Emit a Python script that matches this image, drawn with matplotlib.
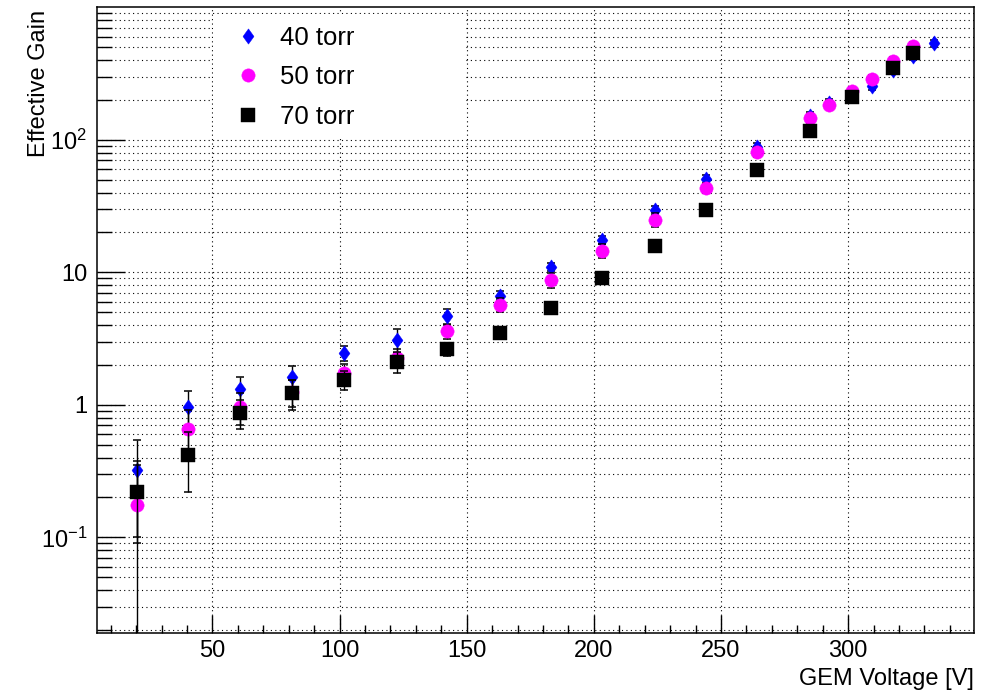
import numpy as np
import matplotlib
matplotlib.use('Agg')
import matplotlib.pyplot as plt
from matplotlib.ticker import MultipleLocator, LogLocator, NullFormatter
from matplotlib.patches import Rectangle

plt.rcParams['font.family'] = ['Liberation Sans', 'DejaVu Sans']
plt.rcParams['mathtext.fontset'] = 'custom'
plt.rcParams['mathtext.rm'] = 'Liberation Sans'
plt.rcParams['mathtext.it'] = 'Liberation Sans:italic'
plt.rcParams['mathtext.bf'] = 'Liberation Sans:bold'
plt.rcParams['mathtext.default'] = 'rm'

# 40 torr
v40 = [20.4, 40.4, 61.0, 81.3, 101.9, 122.4, 142.3, 163.0, 183.2, 203.2,
       224.0, 244.2, 264.3, 285.0, 292.6, 301.4, 309.2, 317.8, 325.4, 333.9]
g40 = [0.32, 0.97, 1.31, 1.62, 2.46, 3.1, 4.71, 6.67, 11.0, 17.6,
       29.4, 50.3, 88.7, 152, 190, 220, 255, 335, 430, 536]
e40 = [0.22, 0.31, 0.31, 0.33, 0.33, 0.63, 0.6, 0.5, 0.8, 1.3,
       2.2, 3.8, 6.5, 11, 13, 15, 17, 22, 28, 35]

# 50 torr
v50 = [20.4, 40.4, 61.0, 81.3, 101.9, 122.4, 142.3, 163.0, 183.2, 203.2,
       224.0, 244.2, 264.3, 285.0, 292.6, 301.4, 309.2, 317.8, 325.4]
g50 = [0.175, 0.66, 0.97, 1.25, 1.75, 2.27, 3.58, 5.7, 8.7, 14.6,
       25.0, 43.3, 81.3, 146, 183, 233, 290, 394, 510]
e50 = [0.2, 0.25, 0.26, 0.28, 0.3, 0.35, 0.45, 0.72, 1.1, 1.7,
       3.0, 3.9, 6.5, 11, 13, 16, 20, 26, 33]

# 70 torr
v70 = [20.4, 40.4, 61.0, 81.3, 101.9, 122.4, 142.3, 163.0, 183.2, 203.2,
       224.0, 244.2, 264.3, 285.0, 301.4, 317.8, 325.4]
g70 = [0.22, 0.42, 0.87, 1.22, 1.54, 2.12, 2.63, 3.5, 5.4, 9.05,
       15.7, 29.4, 58.9, 117, 209, 351, 448]
e70 = [0.13, 0.2, 0.21, 0.31, 0.25, 0.39, 0.3, 0.35, 0.45, 0.7,
       1.1, 2.0, 4.0, 8, 14, 23, 30]

labels = ['40 torr', '50 torr', '70 torr']
y_ticks = [0.1, 1, 10, 100]
y_tick_labels = [r'$10^{-1}$', '1', '10', r'$10^{2}$']

fig = plt.figure(figsize=(9.89, 6.92), dpi=100)
ax = fig.add_axes([0.0981, 0.0853, 0.8867, 0.9046])

diamond = [(0, 1), (0.72, 0), (0, -1), (-0.72, 0), (0, 1)]
eb = dict(ls='none', ecolor='black', elinewidth=1.0, capsize=2.6, capthick=1.1)
c1 = ax.errorbar(v40, g40, yerr=e40, marker=diamond, ms=11, color='#0000ff',
                 mec='#0000ff', zorder=3, **eb)
c2 = ax.errorbar(v50, g50, yerr=e50, marker='o', ms=9.6, color='#ff00ff',
                 mec='#ff00ff', zorder=4, **eb)
c3 = ax.errorbar(v70, g70, yerr=e70, marker='s', ms=10.4, color='black',
                 mec='black', zorder=5, **eb)
for c in (c1, c2, c3):
    c[0].set_markeredgewidth(0.3)

ax.set_yscale('log')
ax.set_xlim(4.6, 349.5)
ax.set_ylim(0.019, 1005)

ax.xaxis.set_major_locator(MultipleLocator(50))
ax.xaxis.set_minor_locator(MultipleLocator(10))
ax.set_yticks(y_ticks, y_tick_labels)
ax.yaxis.set_minor_locator(LogLocator(base=10, subs=np.arange(2, 10)))
ax.yaxis.set_minor_formatter(NullFormatter())

ax.tick_params(axis='both', which='both', direction='in', top=False, right=False,
               width=1.0, labelsize=17)
ax.tick_params(axis='y', which='major', length=20, pad=7)
ax.tick_params(axis='y', which='minor', length=11)
ax.tick_params(axis='x', which='major', length=13, pad=5)
ax.tick_params(axis='x', which='minor', length=6)
for s in ax.spines.values():
    s.set_linewidth(1.1)

grid_ls = (0, (1, 3))
ax.grid(True, axis='x', which='major', color='black', ls=grid_ls, lw=0.8)
ax.grid(True, axis='y', which='both', color='black', ls=grid_ls, lw=0.8)

ax.set_xlabel('GEM Voltage [V]', fontsize=17, loc='right')
ax.set_ylabel('Effective Gain', fontsize=17, loc='top')
ax.xaxis.set_label_coords(1.0, -0.056)
ax.yaxis.set_label_coords(-0.054, 0.995)

# белый фон под легендой
ax.add_patch(Rectangle((0.1323, 0.7907), 0.2873, 0.1981, transform=ax.transAxes,
                       facecolor='white', edgecolor='none', zorder=1.6))
ax.legend([c1[0], c2[0], c3[0]], labels, loc='upper left', bbox_to_anchor=(0.158, 0.970),
          frameon=False, fontsize=18.5, handlelength=1.0, handletextpad=0.72,
          labelspacing=0.6, borderaxespad=0, borderpad=0)

fig.savefig('out.png', dpi=100)
